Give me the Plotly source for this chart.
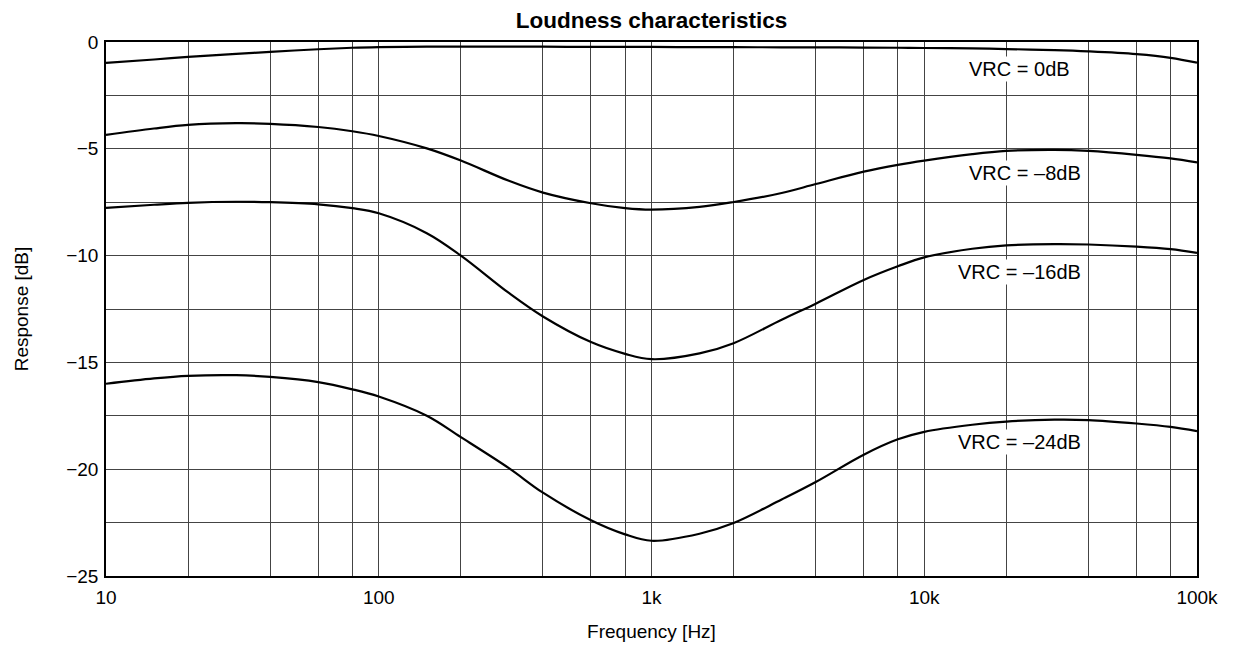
import numpy as np
import plotly.graph_objects as go

freq = [10, 15, 20, 30, 40, 60, 80, 100, 150, 200, 300, 400, 600, 800, 1000, 1500, 2000,
        3000, 4000, 6000, 8000, 10000, 15000, 20000, 30000, 40000, 60000, 80000, 100000]

vrc_0 = [-0.98, -0.82, -0.70, -0.56, -0.46, -0.34, -0.27, -0.24, -0.22, -0.22, -0.22, -0.22,
         -0.23, -0.23, -0.23, -0.24, -0.24, -0.25, -0.25, -0.26, -0.27, -0.28, -0.30, -0.33,
         -0.38, -0.44, -0.57, -0.74, -0.97]
vrc_8 = [-4.35, -4.05, -3.88, -3.80, -3.83, -3.98, -4.18, -4.40, -4.98, -5.55, -6.50, -7.05,
         -7.55, -7.78, -7.85, -7.72, -7.49, -7.07, -6.65, -6.07, -5.75, -5.55, -5.25, -5.10,
         -5.05, -5.10, -5.28, -5.45, -5.64]
vrc_16 = [-7.77, -7.62, -7.53, -7.48, -7.50, -7.60, -7.78, -8.02, -8.95, -10.00, -11.75,
          -12.85, -14.05, -14.60, -14.85, -14.58, -14.10, -13.00, -12.25, -11.14, -10.50,
          -10.08, -9.68, -9.52, -9.46, -9.48, -9.58, -9.70, -9.87]
vrc_24 = [-16.00, -15.75, -15.63, -15.60, -15.68, -15.92, -16.26, -16.60, -17.50, -18.50,
          -19.95, -21.10, -22.39, -23.05, -23.35, -23.02, -22.52, -21.42, -20.60, -19.32,
          -18.60, -18.25, -17.92, -17.77, -17.68, -17.70, -17.86, -18.02, -18.22]

series = [vrc_0, vrc_8, vrc_16, vrc_24]
series_labels = ["VRC = 0dB", "VRC = –8dB", "VRC = –16dB", "VRC = –24dB"]

x_grid = [m * 10 ** e for e in range(1, 5) for m in (1, 2, 4, 6, 8)] + [100000]
x_major = {10: "10", 100: "100", 1000: "1k", 10000: "10k", 100000: "100k"}
y_grid = [0, -2.5, -5, -7.5, -10, -12.5, -15, -17.5, -20, -22.5, -25]
y_major = {0: "0", -5: "−5", -10: "−10", -15: "−15", -20: "−20", -25: "−25"}

FONT = "Liberation Sans, Arial, Helvetica, sans-serif"

fig = go.Figure()
for vals, name in zip(series, series_labels):
    fig.add_trace(go.Scatter(x=freq, y=vals, mode="lines", name=name,
                             line=dict(color="black", width=2.2, shape="spline", smoothing=1.0),
                             showlegend=False, hoverinfo="x+y"))

# label positions (plot y in dB, x in Hz)
label_pos = [(-1.25, 22400), (-6.14, 23500), (-10.79, 22400), (-18.74, 22400)]
for (yv, xv), name in zip(label_pos, series_labels):
    fig.add_annotation(x=np.log10(xv), y=yv, text=name, showarrow=False,
                       xanchor="center", yanchor="middle", bgcolor="white", borderpad=1,
                       font=dict(family=FONT, size=20, color="black"))

fig.update_layout(
    width=1225, height=643,
    margin=dict(l=88, r=36, t=34, b=71),
    paper_bgcolor="white", plot_bgcolor="white",
    font=dict(family=FONT, size=19, color="black"),
    title=dict(text="<b>Loudness characteristics</b>", x=0.5, xref="paper",
               y=1 - 12 / 643, yref="container", yanchor="middle", xanchor="center",
               font=dict(family=FONT, size=22.5, color="black")),
)
fig.update_xaxes(type="log", range=[1, 5], tickvals=x_grid,
                 ticktext=[x_major.get(v, "") for v in x_grid],
                 showgrid=True, gridcolor="#444", gridwidth=1,
                 showline=True, linecolor="black", linewidth=1.5, mirror=True,
                 ticks="", ticklabelstandoff=3, zeroline=False,
                 title=dict(text="Frequency [Hz]", standoff=18,
                            font=dict(family=FONT, size=19)))
fig.update_yaxes(range=[-25, 0], tickvals=y_grid,
                 ticktext=[y_major.get(v, "") for v in y_grid],
                 showgrid=True, gridcolor="#444", gridwidth=1,
                 showline=True, linecolor="black", linewidth=1.5, mirror=True,
                 ticks="", ticklabelstandoff=2, zeroline=False,
                 title=dict(text="Response [dB]", standoff=33,
                            font=dict(family=FONT, size=19)))

fig.write_html("out.html")
